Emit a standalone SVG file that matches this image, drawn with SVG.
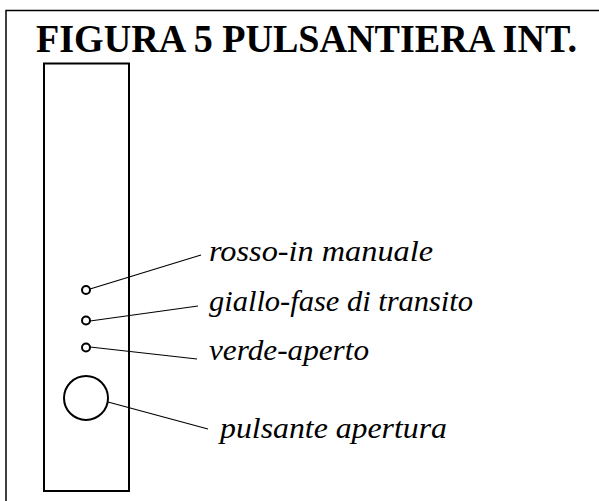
<svg xmlns="http://www.w3.org/2000/svg" width="599" height="501" viewBox="0 0 599 501">
<style>
.frame{fill:none;stroke:#000;stroke-width:1.5}
.panel{fill:none;stroke:#000;stroke-width:2}
.led{fill:#fff;stroke:#000;stroke-width:2}
.btn{fill:#fff;stroke:#000;stroke-width:2}
.lead{stroke:#000;stroke-width:1.2;fill:none}
.lbl{font-family:"Liberation Serif",serif;font-style:italic;font-size:29px;fill:#000}
.title{font-family:"Liberation Serif",serif;font-weight:bold;font-size:40px;fill:#000}
</style>
<rect width="599" height="501" fill="#fff"/>
<path class="frame" d="M6,501 V10.5 H599"/>
<text class="title" x="36" y="52" textLength="541" lengthAdjust="spacingAndGlyphs">FIGURA 5 PULSANTIERA INT.</text>
<g id="panel">
<rect class="panel" x="44" y="63.5" width="85" height="427.5"/>
</g>
<g id="connectors">
<line class="lead" x1="90" y1="289" x2="201" y2="255"/>
<line class="lead" x1="90" y1="321" x2="198" y2="306"/>
<line class="lead" x1="90" y1="347" x2="197" y2="359"/>
<line class="lead" x1="108" y1="402" x2="208" y2="429"/>
</g>
<g id="led-rosso"><circle class="led" cx="86" cy="290" r="4"/><text class="lbl" x="209" y="261" textLength="224" lengthAdjust="spacingAndGlyphs">rosso-in manuale</text></g>
<g id="led-giallo"><circle class="led" cx="86" cy="320.5" r="4"/><text class="lbl" x="209" y="311" textLength="264" lengthAdjust="spacingAndGlyphs">giallo-fase di transito</text></g>
<g id="led-verde"><circle class="led" cx="86" cy="347.5" r="4"/><text class="lbl" x="209" y="360" textLength="160" lengthAdjust="spacingAndGlyphs">verde-aperto</text></g>
<g id="pulsante"><circle class="btn" cx="86" cy="398" r="22"/><text class="lbl" x="220" y="438" textLength="227" lengthAdjust="spacingAndGlyphs">pulsante apertura</text></g>
</svg>
